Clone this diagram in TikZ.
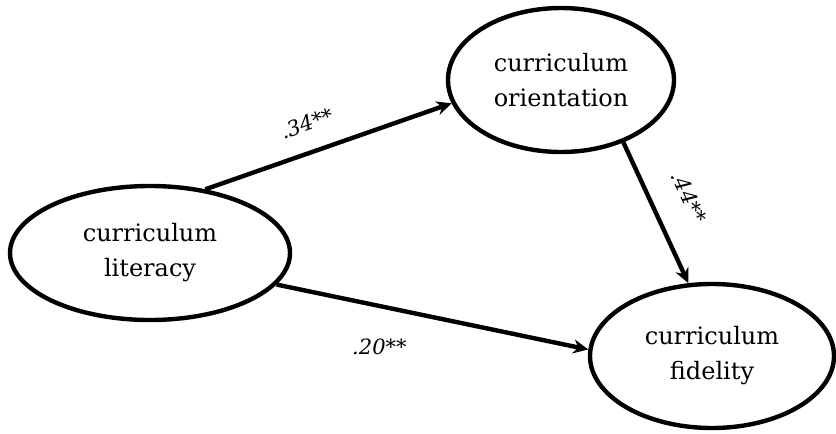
\documentclass[tikz,border=0pt]{standalone}
\usepackage{fontspec}
\setmainfont{DejaVu Serif}
\usepackage{tikz}
\usetikzlibrary{shapes.geometric, positioning, arrows.meta}
\tikzset{
    x = 0.5pt, y = -0.5pt,                          % Work in picture pixels
    >={Stealth[length=7.5pt, width=7pt]},           % Bold arrow heads
    every edge/.style={draw, ->, line width=2.2pt}, % Directed paths
    construct/.style={ellipse, draw, line width=2.2pt, inner sep=0pt,
        align=center, font=\fontsize{12}{17.5}\selectfont},
    coef/.style={font=\fontsize{10.5}{12}\selectfont\itshape}
}

\begin{document}
\begin{tikzpicture}
            \useasboundingbox (0,0) rectangle (836,434);

            \node [construct, minimum width=140pt, minimum height=67pt] (lit) at (150,253) {curriculum\\literacy};
            \node [construct, minimum width=113pt, minimum height=72pt] (ori) at (561,80) {curriculum\\orientation};
            \node [construct, minimum width=122pt, minimum height=72pt] (fid) at (712,356) {curriculum\\fidelity};

            \draw   (lit.49) edge node [coef, sloped, above=6pt, pos=0.45] {.34**} (ori.192)
                    (ori.315) edge node [coef, sloped, above=10pt, pos=0.5] {.44**} (fid.108)
                    (lit.346) edge node [coef, below=12pt, pos=0.33] {.20**} (fid.177);
        \end{tikzpicture}
\end{document}
